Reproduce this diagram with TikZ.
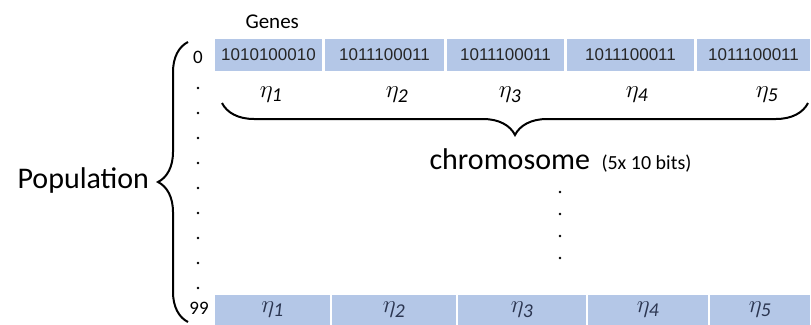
\documentclass[tikz,border=0pt]{standalone}
\usepackage{fontspec}
\setmainfont{Carlito}
\newfontfamily\genefont{Liberation Sans}
\usetikzlibrary{decorations.pathreplacing}
\definecolor{genefill}{HTML}{B4C7E7}
\definecolor{etadark}{HTML}{2B3550}

\begin{document}
\begin{tikzpicture}[x=1pt, y=-1pt,
  gene/.style={fill=genefill, draw=white, line width=1.5pt, minimum height=34pt,
    inner sep=0pt, font=\genefont\fontsize{17}{17}\selectfont, text=black!85},
  eta/.style={font=\fontsize{28}{28}\selectfont},
  bigbrace/.style={line width=2pt, decorate, decoration={brace, amplitude=#1}}]
  \useasboundingbox (0,0) rectangle (811,324);
  % first chromosome: genes as bit strings
  \node[gene, minimum width=109pt] (g1) at (268.5,55) {1010100010};
  \node[gene, minimum width=121pt] (g2) at (384.5,55) {1011100011};
  \node[gene, minimum width=119pt] (g3) at (505.5,55) {1011100011};
  \node[gene, minimum width=129pt] (g4) at (630.5,55) {1011100011};
  \node[gene, minimum width=115pt] (g5) at (753.5,55) {1011100011};
  \node[anchor=base west, font=\fontsize{21}{21}\selectfont] (genes) at (242,28) {Genes};
  % gene names under the first chromosome
  \node[eta] (e1) at (271,95) {$\eta_{\mathit{1}}$};
  \node[eta] (e2) at (397,95) {$\eta_{\mathit{2}}$};
  \node[eta] (e3) at (510,95) {$\eta_{\mathit{3}}$};
  \node[eta] (e4) at (637,95) {$\eta_{\mathit{4}}$};
  \node[eta] (e5) at (767,95) {$\eta_{\mathit{5}}$};
  % brace over the whole chromosome
  \coordinate (chromR) at (808,103);
  \coordinate (chromL) at (222,103);
  \draw[bigbrace=32pt] (chromR) -- (chromL);
  \node[anchor=base west, font=\fontsize{30}{30}\selectfont] (chrom) at (426,169) {chromosome};
  \node[anchor=base west, font=\fontsize{20}{20}\selectfont] (bits) at (598,169) {(5x 10 bits)};
  \foreach \y in {192,214,236,258} \fill (560,\y) circle (1.3);
  % last chromosome
  \node[gene, eta, text=etadark, minimum height=32pt, minimum width=117pt] (h1) at (272.5,310) {$\eta_{\mathit{1}}$};
  \node[gene, eta, text=etadark, minimum height=32pt, minimum width=126pt] (h2) at (394,310) {$\eta_{\mathit{2}}$};
  \node[gene, eta, text=etadark, minimum height=32pt, minimum width=130pt] (h3) at (522,310) {$\eta_{\mathit{3}}$};
  \node[gene, eta, text=etadark, minimum height=32pt, minimum width=122pt] (h4) at (648,310) {$\eta_{\mathit{4}}$};
  \node[gene, eta, text=etadark, minimum height=32pt, minimum width=102pt] (h5) at (760,310) {$\eta_{\mathit{5}}$};
  % population index
  \node[font=\fontsize{19}{19}\selectfont] (first) at (198,57) {0};
  \node[font=\fontsize{19}{19}\selectfont] (last) at (199,308) {99};
  \foreach \y in {88,113,...,288} \fill (198,\y) circle (1.3);
  \coordinate (popB) at (188,322);
  \coordinate (popT) at (188,42);
  \draw[bigbrace=30pt] (popB) -- (popT);
  \node[anchor=base west, font=\fontsize{30}{30}\selectfont] (pop) at (14,188) {Population};
\end{tikzpicture}
\end{document}
